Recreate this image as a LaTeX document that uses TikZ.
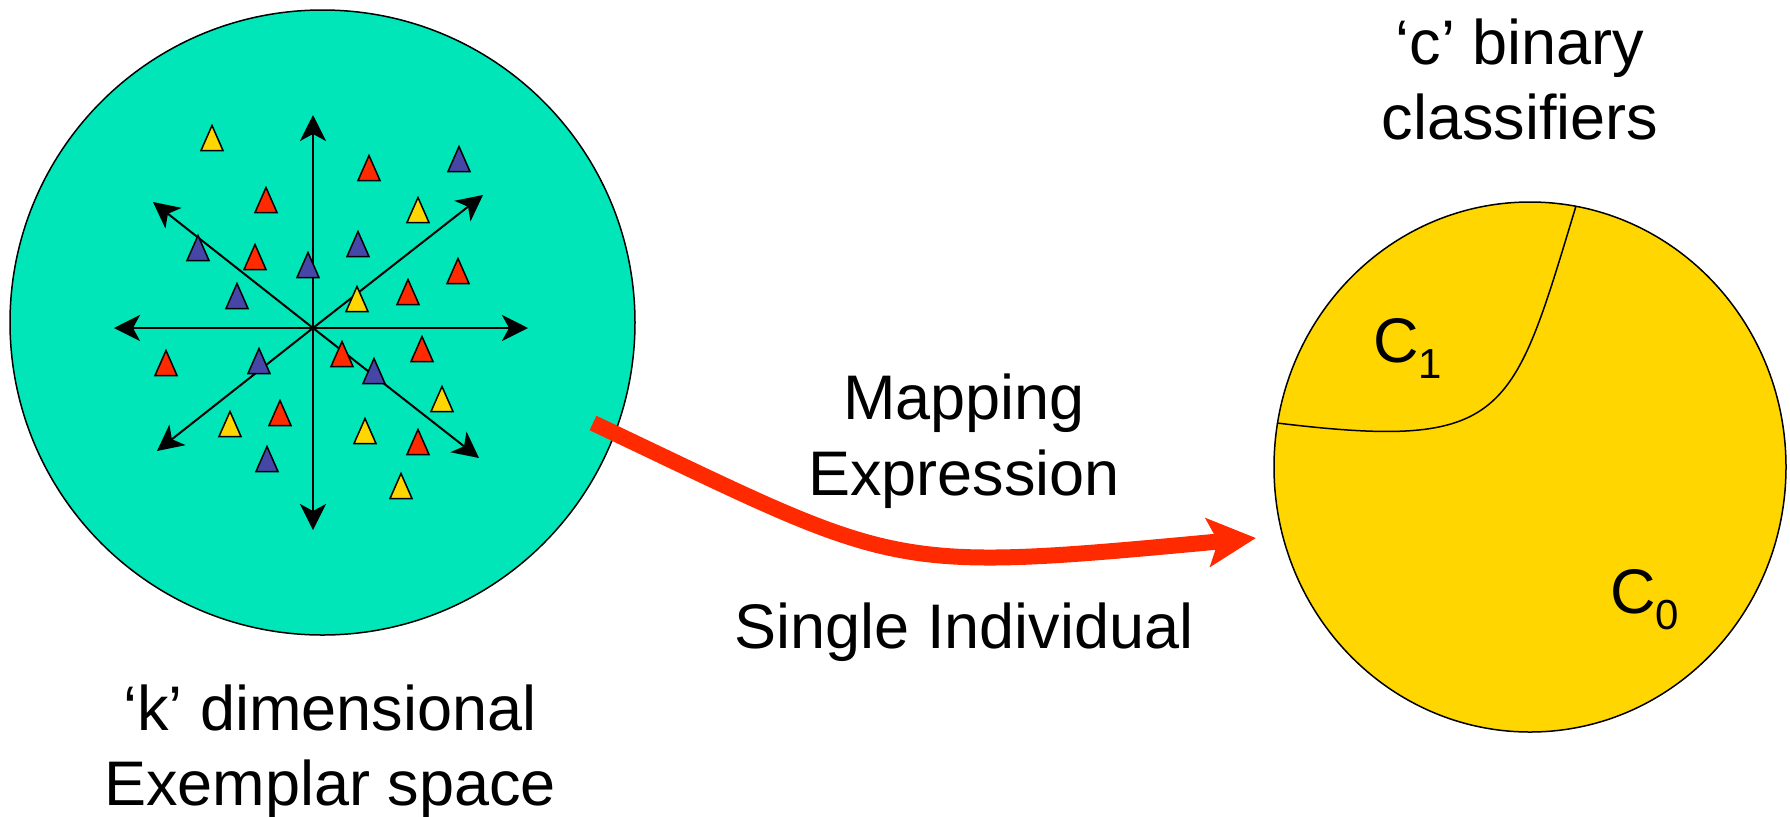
\documentclass[tikz,border=0pt]{standalone}
\usepackage{fontspec}
\setmainfont{Liberation Sans}
\usetikzlibrary{arrows.meta,shapes.geometric}
\definecolor{spaceteal}{HTML}{00E6B8}
\definecolor{clsgold}{HTML}{FFD600}
\definecolor{triR}{HTML}{FF2A00}
\definecolor{triB}{HTML}{4646A8}
\definecolor{triY}{HTML}{FFD600}
\definecolor{maparrow}{HTML}{FF2A00}

\begin{document}
\begin{tikzpicture}[x=0.5pt,y=-0.5pt,
  labeltext/.style={font=\fontsize{31.5pt}{37.5pt}\selectfont, inner sep=0pt, anchor=base},
  subtext/.style={font=\fontsize{31.5pt}{37.5pt}\selectfont, inner sep=0pt, anchor=base west},
  axis/.style={line width=1pt, -{Stealth[length=13pt,width=13pt,inset=3.5pt]}},
  pics/tri/.style={code={\draw[line width=0.75pt, line join=miter, fill=#1]
      (-11,12.5) -- (0,-12.5) -- (11,12.5) -- cycle;}},
  region/.style={draw=black, line width=0.75pt, inner sep=0pt}
]
\useasboundingbox (0,0) rectangle (1790,816);
\fill[white] (0,0) rectangle (1790,816);

% exemplar space and classifier region
\node[circle, region, fill=spaceteal, minimum size=312.5pt] (space) at (322.5,322.5) {};
\node[ellipse, region, fill=clsgold, minimum width=256pt, minimum height=265pt] (cls) at (1530,467) {};
\draw[line width=0.75pt] (1576,206) .. controls (1512,417) and (1508,451) .. (1277,423);

% axes of the exemplar space
\coordinate (o) at (313,328);
\coordinate (ax-n) at (313,115);
\coordinate (ax-s) at (313,530);
\coordinate (ax-w) at (114,328);
\coordinate (ax-e) at (528,328);
\coordinate (ax-nw) at (153,202);
\coordinate (ax-ne) at (483,195);
\coordinate (ax-sw) at (157,451);
\coordinate (ax-se) at (479,458);
\foreach \e in {n,s,w,e,nw,ne,sw,se} \draw[axis] (o) -- (ax-\e);

% exemplars
\foreach \px/\py/\c in {
  212/138/triY, 369/168/triR, 459/159/triB, 266/200/triR, 418/210/triY,
  198/248/triB, 255/257/triR, 308/265/triB, 358/244/triB, 458/271/triR,
  237/296/triB, 357/299/triY, 408/292/triR, 166/363/triR, 259/361/triB,
  342/354/triR, 422/349/triR, 374/371/triB, 442/399/triY, 280/413/triR,
  230/424/triY, 365/431/triY, 418/442/triR, 267/459/triB, 401/486/triY} {
  \pic at (\px,\py) {tri=\c};
}

% mapping arrow
\coordinate (mapfrom) at (593,423);
\coordinate (mapto) at (1256,538);
\draw[maparrow, line width=8pt, -{Stealth[length=24pt,width=24pt,inset=5pt]}]
  (mapfrom) .. controls (903,570) and (881,573) .. (mapto);

% labels
\node[labeltext] (k1) at (330,730) {‘k’ dimensional};
\node[labeltext] (k2) at (330,805) {Exemplar space};
\node[labeltext] (m1) at (964,419) {Mapping};
\node[labeltext] (m2) at (964,495) {Expression};
\node[labeltext] (si) at (964,648) {Single Individual};
\node[labeltext] (c1) at (1520,64) {‘c’ binary};
\node[labeltext] (c2) at (1520,139) {classifiers};
\node[subtext] (C1) at (1373,362) {C\raisebox{-8pt}{\fontsize{21pt}{21pt}\selectfont 1}};
\node[subtext] (C0) at (1610,613) {C\raisebox{-8pt}{\fontsize{21pt}{21pt}\selectfont 0}};
\end{tikzpicture}
\end{document}
